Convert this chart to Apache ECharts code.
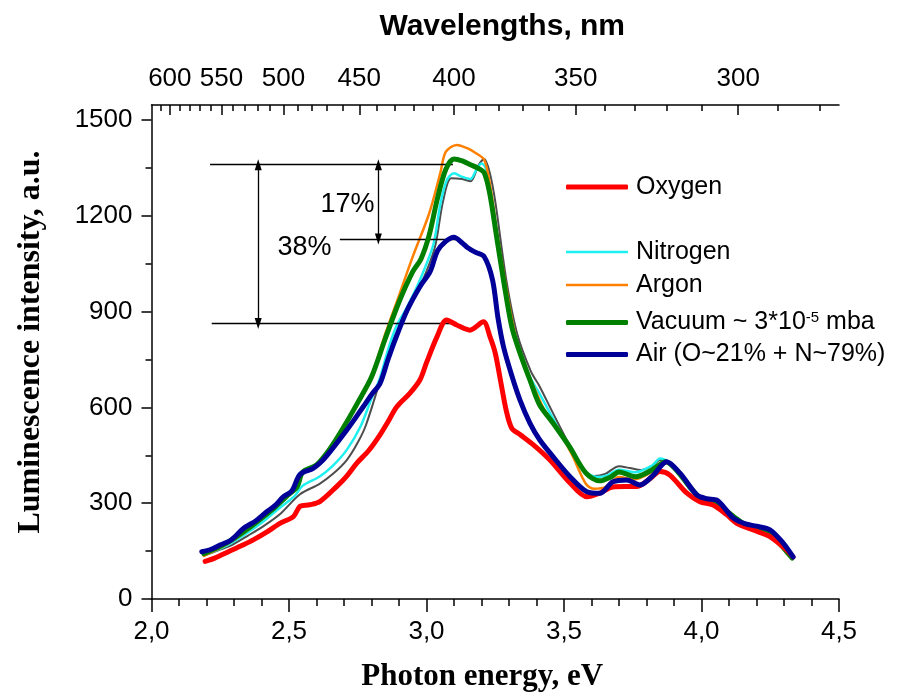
<!DOCTYPE html>
<html>
<head>
<meta charset="utf-8">
<script src="https://cdn.jsdelivr.net/npm/echarts@6/dist/echarts.min.js"></script>
<style>
  html, body { margin: 0; padding: 0; background: #fff; }
  #chart { width: 902px; height: 693px; }
</style>
</head>
<body>
<div id="chart"></div>
<script>
// Photon energy (eV) <-> wavelength (nm)
const HC = 1240;

// Axis ticks
const energyRange = [2.0, 4.5];
const intensityMax = 1547;
const intensityTicks = [0, 300, 600, 900, 1200, 1500];
const intensityMinorTicks = [150, 450, 750, 1050, 1350];
const wavelengthTicks = [600, 550, 500, 450, 400, 350, 300];
const wavelengthMinorTicks = [610, 590, 580, 570, 560, 540, 530, 520, 510, 490, 480, 470, 460,
  440, 430, 420, 410, 390, 380, 370, 360, 340, 330, 320, 310, 290, 280];

// Luminescence spectra: [photon energy eV, intensity a.u.]
const oxygen = [
  [2.195,118],[2.23,128],[2.285,150],[2.33,168],[2.37,185],[2.42,210],[2.467,237],[2.516,258],
  [2.54,290],[2.575,295],[2.612,305],[2.673,352],[2.71,385],[2.746,425],[2.79,465],[2.831,514],
  [2.86,555],[2.892,602],[2.94,645],[2.976,686],[3.0,740],[3.038,821],[3.073,874],[3.11,858],
  [3.158,842],[3.207,868],[3.231,821],[3.25,770],[3.27,680],[3.29,590],[3.31,535],[3.34,515],
  [3.39,482],[3.449,435],[3.522,363],[3.583,320],[3.631,332],[3.678,351],[3.72,352],[3.764,352],
  [3.81,375],[3.849,399],[3.885,388],[3.946,332],[3.994,305],[4.042,294],[4.09,265],[4.128,237],
  [4.188,216],[4.25,195],[4.31,153],[4.333,132]
];
const nitrogen = [
  [2.19,138],[2.25,158],[2.29,175],[2.35,208],[2.41,245],[2.47,288],[2.52,322],[2.55,355],
  [2.61,383],[2.66,418],[2.71,467],[2.76,540],[2.80,628],[2.83,690],[2.86,780],[2.89,853],
  [2.93,915],[2.976,999],[3.025,1110],[3.05,1235],[3.073,1310],[3.10,1333],[3.13,1322],[3.16,1315],
  [3.18,1342],[3.20,1364],[3.215,1350],[3.235,1250],[3.255,1124],[3.29,947],[3.33,800],[3.376,695],
  [3.41,645],[3.46,565],[3.52,472],[3.58,398],[3.62,382],[3.66,388],[3.70,405],[3.76,397],
  [3.82,418],[3.85,440],[3.88,428],[3.92,392],[3.96,342],[4.0,318],[4.05,303],[4.10,272],
  [4.15,242],[4.20,225],[4.25,210],[4.30,168],[4.33,130]
];
const argon = [
  [2.19,135],[2.25,160],[2.30,185],[2.35,215],[2.40,250],[2.45,285],[2.50,325],[2.53,350],
  [2.55,395],[2.60,418],[2.65,470],[2.70,535],[2.75,615],[2.80,700],[2.85,830],[2.90,950],
  [2.95,1072],[3.01,1208],[3.05,1333],[3.07,1400],[3.11,1422],[3.15,1411],[3.18,1396],[3.21,1375],
  [3.23,1302],[3.255,1155],[3.285,999],[3.316,853],[3.35,740],[3.39,665],[3.43,590],[3.48,530],
  [3.53,450],[3.58,360],[3.61,345],[3.65,350],[3.70,382],[3.76,375],[3.82,398],[3.87,425],
  [3.90,410],[3.95,355],[3.99,318],[4.04,300],[4.08,282],[4.13,250],[4.18,225],[4.23,208],
  [4.28,185],[4.31,150],[4.33,128]
];
const vacuum = [
  [2.19,142],[2.25,165],[2.30,190],[2.35,220],[2.40,253],[2.45,288],[2.50,328],[2.53,352],
  [2.55,398],[2.60,420],[2.65,472],[2.70,540],[2.75,615],[2.80,695],[2.85,815],[2.90,930],
  [2.95,1025],[2.98,1065],[3.01,1140],[3.04,1255],[3.07,1345],[3.10,1378],[3.13,1372],[3.16,1360],
  [3.19,1348],[3.21,1335],[3.23,1270],[3.255,1134],[3.28,999],[3.31,853],[3.34,770],[3.376,686],
  [3.41,610],[3.46,551],[3.52,477],[3.58,394],[3.63,370],[3.67,382],[3.70,398],[3.76,383],
  [3.82,404],[3.87,430],[3.90,412],[3.95,360],[3.99,320],[4.03,302],[4.07,289],[4.12,256],
  [4.16,232],[4.21,214],[4.26,195],[4.31,148],[4.33,128]
];
const air = [
  [2.183,148],[2.215,155],[2.249,169],[2.29,185],[2.334,221],[2.38,245],[2.419,273],[2.45,293],
  [2.479,320],[2.51,338],[2.54,390],[2.588,409],[2.62,432],[2.649,461],[2.68,495],[2.71,529],
  [2.74,565],[2.77,602],[2.80,640],[2.831,675],[2.86,750],[2.89,821],[2.93,905],[2.976,978],
  [3.013,1025],[3.04,1090],[3.07,1120],[3.10,1133],[3.13,1115],[3.15,1100],[3.18,1085],[3.21,1072],
  [3.24,1000],[3.26,880],[3.28,790],[3.31,700],[3.34,623],[3.376,551],[3.412,498],[3.46,446],
  [3.522,383],[3.583,336],[3.63,331],[3.678,367],[3.728,373],[3.776,357],[3.825,388],[3.873,430],
  [3.922,394],[3.983,326],[4.02,314],[4.055,310],[4.115,254],[4.16,235],[4.20,228],[4.25,216],
  [4.297,175],[4.333,132]
];
// Reference spectrum (thin dark trace, not listed in the legend)
const reference = [
  [2.19,135],[2.25,155],[2.29,168],[2.35,198],[2.41,230],[2.47,268],[2.54,328],[2.61,360],
  [2.66,392],[2.71,435],[2.75,490],[2.78,545],[2.83,680],[2.87,790],[2.93,900],[2.98,985],
  [3.03,1100],[3.06,1245],[3.09,1318],[3.13,1315],[3.16,1308],[3.19,1360],[3.21,1378],[3.23,1335],
  [3.25,1245],[3.29,1000],[3.33,830],[3.38,712],[3.41,668],[3.46,582],[3.52,482],[3.58,396],
  [3.61,385],[3.65,392],[3.70,416],[3.74,410],[3.78,404],[3.82,416],[3.85,435],[3.88,425],
  [3.92,388],[3.96,340],[4.0,316],[4.05,302],[4.10,271],[4.15,241],[4.20,224],[4.25,209],
  [4.30,167],[4.33,130]
];

// Intensity drop markers
const levelTop = 1360, levelAir = 1127, levelOxygen = 863;
const guideLines = [
  [[2.213, levelTop], [3.096, levelTop]],
  [[2.685, levelAir], [3.116, levelAir]],
  [[2.219, levelOxygen], [3.104, levelOxygen]]
];
const arrows = [
  [[2.388, levelTop], [2.388, levelOxygen]],
  [[2.825, levelTop], [2.825, levelAir]]
];
const dropLabels = [[2.7145, 1234, '17%'], [2.558, 1099, '38%']];

const SANS = "'Liberation Sans', Arial, sans-serif";
const SERIF = "'Liberation Serif', 'Times New Roman', serif";
const AXIS = { color: '#000', width: 1.5 };

function spectrum(name, data, color, width, z) {
  return {
    name, type: 'line', data, color, z,
    xAxisIndex: 0, yAxisIndex: 0,
    symbol: 'none', smooth: 0.3,
    lineStyle: { color, width, cap: 'round', join: 'round' },
    emphasis: { disabled: true }, silent: true
  };
}

const chart = echarts.init(document.getElementById('chart'), null, { renderer: 'canvas' });

chart.setOption({
  animation: false,
  backgroundColor: '#fff',
  grid: { left: 151.5, right: 63, top: 105, bottom: 94, containLabel: false, outerBoundsMode: 'none' },
  xAxis: [
    {
      type: 'value', position: 'bottom', min: energyRange[0], max: energyRange[1], interval: 0.5,
      name: 'Photon energy, eV', nameLocation: 'middle', nameGap: 62,
      nameTextStyle: { fontFamily: SERIF, fontWeight: 'bold', fontSize: 31, color: '#000', padding: [0, 26, 0, 0] },
      axisLine: { onZero: false, lineStyle: AXIS },
      axisTick: { inside: false, length: 13, lineStyle: AXIS },
      minorTick: { show: true, splitNumber: 5, length: 7, lineStyle: AXIS },
      axisLabel: { margin: 20, fontFamily: SANS, fontSize: 26, color: '#000',
        formatter: v => v.toFixed(1).replace('.', ',') },
      splitLine: { show: false }
    },
    {
      type: 'value', position: 'top', min: energyRange[0], max: energyRange[1],
      name: 'Wavelengths, nm', nameLocation: 'middle', nameGap: 63,
      nameTextStyle: { fontFamily: SANS, fontWeight: 'bold', fontSize: 30, color: '#000', padding: [0, 0, 0, 14] },
      axisLine: { onZero: false, lineStyle: AXIS },
      axisTick: { inside: true, length: 10, lineStyle: AXIS,
        customValues: wavelengthTicks.map(l => HC / l) },
      axisLabel: { margin: 13, fontFamily: SANS, fontSize: 26, color: '#000',
        customValues: wavelengthTicks.map(l => HC / l),
        formatter: v => String(Math.round(HC / v)) },
      splitLine: { show: false }
    },
    {
      type: 'value', position: 'top', min: energyRange[0], max: energyRange[1],
      axisLine: { show: false, onZero: false },
      axisTick: { inside: true, length: 6, lineStyle: AXIS,
        customValues: wavelengthMinorTicks.map(l => HC / l) },
      axisLabel: { show: false },
      splitLine: { show: false }
    }
  ],
  yAxis: [
    {
      type: 'value', position: 'left', min: 0, max: intensityMax,
      name: 'Luminescence intensity, a.u.', nameLocation: 'middle', nameGap: 105, nameRotate: 90,
      nameTextStyle: { fontFamily: SERIF, fontWeight: 'bold', fontSize: 32, color: '#000', padding: [0, 0, 0, 20] },
      axisLine: { show: true, onZero: false, lineStyle: AXIS },
      axisTick: { show: true, inside: false, length: 10, lineStyle: AXIS, customValues: intensityTicks },
      axisLabel: { margin: 19, fontFamily: SANS, fontSize: 26, color: '#000', customValues: intensityTicks,
        formatter: v => String(v) },
      splitLine: { show: false }
    },
    {
      type: 'value', position: 'left', min: 0, max: intensityMax,
      axisLine: { show: false, onZero: false },
      axisTick: { show: true, inside: false, length: 6, lineStyle: AXIS, customValues: intensityMinorTicks },
      axisLabel: { show: false },
      splitLine: { show: false }
    }
  ],
  legend: [
    {
      data: ['Oxygen'], orient: 'vertical', left: 561, top: 169.5,
      itemWidth: 62, itemHeight: 5, icon: 'roundRect', itemGap: 8,
      textStyle: { fontFamily: SANS, fontSize: 25, lineHeight: 25, color: '#000', padding: [0, 0, 0, 3] },
      selectedMode: false
    },
    {
      data: ['Nitrogen', 'Argon'], orient: 'vertical', left: 561, top: 234.5,
      itemWidth: 62, itemHeight: 2.5, icon: 'rect', itemGap: 8,
      textStyle: { fontFamily: SANS, fontSize: 25, lineHeight: 25, color: '#000', padding: [0, 0, 0, 3] },
      selectedMode: false
    },
    {
      data: ['Vacuum', 'Air (O~21% + N~79%)'], orient: 'vertical', left: 561, top: 305,
      itemWidth: 62, itemHeight: 5, icon: 'roundRect', itemGap: 7,
      formatter: name => name === 'Vacuum' ? 'Vacuum ~ 3*10{sup|-5} mba' : name,
      textStyle: { fontFamily: SANS, fontSize: 25, lineHeight: 25, color: '#000', padding: [0, 0, 0, 3],
        rich: { sup: { fontFamily: SANS, fontSize: 15, color: '#000', verticalAlign: 'top', lineHeight: 25, padding: [0, 0, 10, 0] } } },
      selectedMode: false
    }
  ],
  series: [
    Object.assign(spectrum('reference', reference, '#4d4d4d', 2, 2), {
      markLine: {
        silent: true, symbol: ['none', 'none'], symbolSize: [7, 11],
        label: { show: false },
        lineStyle: { color: '#000', width: 1.3, type: 'solid' },
        emphasis: { disabled: true },
        data: guideLines.map(([a, b]) => [{ coord: a }, { coord: b }])
          .concat(arrows.map(([a, b]) => [{ coord: a, symbol: 'triangle' }, { coord: b, symbol: 'triangle' }]))
      }
    }),
    spectrum('Nitrogen', nitrogen, '#1ef0f0', 2.5, 3),
    spectrum('Argon', argon, '#ff8000', 2.5, 4),
    spectrum('Vacuum', vacuum, '#008000', 5, 5),
    spectrum('Oxygen', oxygen, '#ff0000', 5, 6),
    spectrum('Air (O~21% + N~79%)', air, '#000099', 5, 7),
    {
      type: 'scatter', xAxisIndex: 0, yAxisIndex: 0, symbolSize: 1, silent: true, z: 10,
      itemStyle: { color: '#fff', opacity: 0 },
      data: dropLabels,
      label: { show: true, position: [0, 0], align: 'center', verticalAlign: 'middle',
        formatter: p => p.value[2], opacity: 1,
        fontFamily: SANS, fontSize: 27, color: '#000', textBorderWidth: 0 }
    }
  ]
});
</script>
</body>
</html>
